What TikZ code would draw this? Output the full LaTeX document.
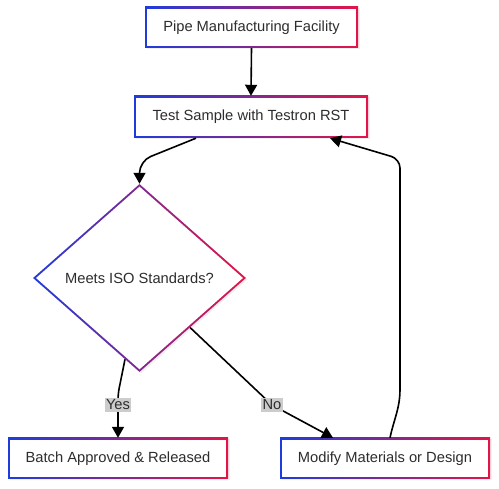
\documentclass[tikz,border=0pt]{standalone}
\usepackage{fontspec}
\setmainfont{Liberation Sans}
\usetikzlibrary{shapes.geometric,arrows.meta,calc,shadows}
\definecolor{gblue}{RGB}{30,60,220}
\definecolor{gred}{RGB}{228,20,70}
\definecolor{txt}{RGB}{45,45,45}
\definecolor{lblbg}{RGB}{204,204,204}
\tikzset{
  gbox/.style={rectangle, left color=gblue, right color=gred, text=txt, inner sep=0pt,
    font=\fontsize{14.7}{17}\selectfont,
    drop shadow={shadow xshift=1.5pt, shadow yshift=-1.5pt, opacity=0.12},
    path picture={\fill[white] ([shift={(2pt,2pt)}]path picture bounding box.south west) rectangle ([shift={(-2pt,-2pt)}]path picture bounding box.north east);}},
  gdia/.style={diamond, left color=gblue, right color=gred, text=txt, inner sep=0pt,
    font=\fontsize{14.7}{17}\selectfont,
    drop shadow={shadow xshift=1.5pt, shadow yshift=-1.5pt, opacity=0.12},
    path picture={\fill[white]
      ($(path picture bounding box.center)!0.972!(path picture bounding box.north)$) --
      ($(path picture bounding box.center)!0.972!(path picture bounding box.east)$) --
      ($(path picture bounding box.center)!0.972!(path picture bounding box.south)$) --
      ($(path picture bounding box.center)!0.972!(path picture bounding box.west)$) -- cycle;}},
  arr/.style={-{Triangle[length=11pt,width=12pt]}, line width=1.6pt, black},
  lbl/.style={fill=lblbg, text=txt, inner sep=1.5pt, font=\fontsize{14.7}{17}\selectfont}
}
\begin{document}
\begin{tikzpicture}[x=1pt,y=1pt]
\useasboundingbox (0,0) rectangle (499,489);
\node[gbox, minimum width=213pt, minimum height=41pt] (b1) at (251.5,461.5) {Pipe Manufacturing Facility};
\node[gbox, minimum width=234pt, minimum height=42pt] (b2) at (251,372) {Test Sample with Testron RST};
\node[gdia, minimum width=213pt, minimum height=188pt] (d) at (139.5,211) {Meets ISO Standards?};
\node[gbox, minimum width=220pt, minimum height=41pt] (b3) at (118,30.5) {Batch Approved \& Released};
\node[gbox, minimum width=210pt, minimum height=41pt] (b4) at (385,30.5) {Modify Materials or Design};

\draw[arr] (b1.south) -- (b2.north);
\draw[arr, rounded corners=12pt] ([xshift=-55pt]b2.south) -- (139.5,328) -- (d.north);
\draw[arr, rounded corners=6pt] ($(d.south)!0.136!(d.west)$) -- (118,95) -- (b3.north);
\node[lbl] (yes) at (118,84) {Yes};
\draw[arr, rounded corners=10pt] ($(d.south)!0.474!(d.east)$) -- (272,84) -- ([xshift=-52pt]b4.north);
\node[lbl] (no) at (272,84) {No};
\draw[arr] ([xshift=5pt]b4.north) to[out=78,in=-90] (400,100) [rounded corners=9pt] -- (400,330) -- ([xshift=79pt]b2.south);
\end{tikzpicture}
\end{document}
